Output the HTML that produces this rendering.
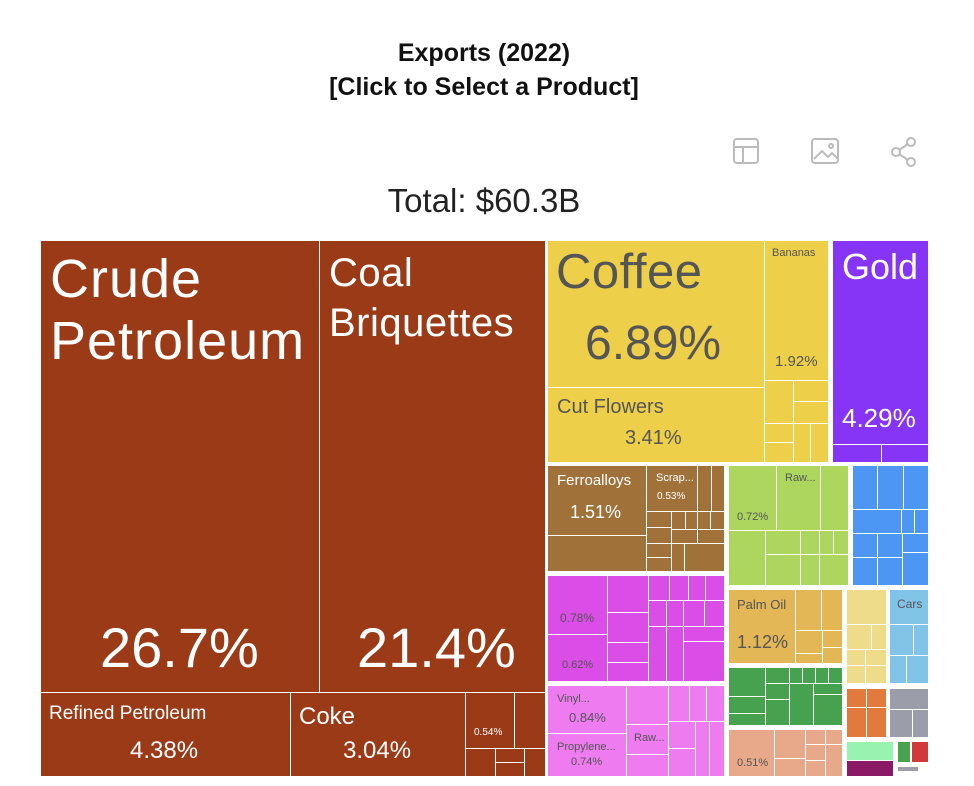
<!DOCTYPE html>
<html><head><meta charset="utf-8"><style>
body{margin:0;background:#fff;width:974px;height:786px;position:relative;overflow:hidden;font-family:"Liberation Sans",sans-serif}
.r{position:absolute;box-sizing:border-box;border:1px solid #fff}
.t{position:absolute;white-space:nowrap}
.w{color:#fff}.d{color:#555}
</style></head><body>
<div class="t" style="left:0;width:968px;top:36px;text-align:center;font-weight:bold;font-size:25px;color:#111;line-height:34px">Exports (2022)<br>[Click to Select a Product]</div>
<svg style="position:absolute;left:732px;top:137px" width="190" height="30" fill="none" stroke="#bbb" stroke-width="2">
<rect x="2" y="2" width="24" height="24" rx="3"/><line x1="2" y1="10" x2="26" y2="10"/><line x1="11" y1="10" x2="11" y2="26"/>
<rect x="80" y="2" width="26" height="24" rx="3"/><polyline points="82,22 90,14 96,20 100,16 106,22"/><circle cx="99" cy="9" r="2"/>
<circle cx="164" cy="15" r="4"/><circle cx="179" cy="5" r="4"/><circle cx="179" cy="25" r="4"/><line x1="167" y1="13" x2="176" y2="7"/><line x1="167" y1="17" x2="176" y2="23"/>
</svg>
<div class="t" style="left:0;width:968px;top:182px;text-align:center;font-size:33px;color:#222">Total: $60.3B</div>

<div class="r" style="left:40px;top:240px;width:280px;height:453px;background:#9a3a17"></div>
<div class="t w" style="left:50px;top:248px;font-size:54px;line-height:62px;letter-spacing:1px">Crude<br>Petroleum</div>
<div class="t w" style="left:100px;top:615px;font-size:56px">26.7%</div>
<div class="r" style="left:319px;top:240px;width:227px;height:453px;background:#9a3a17"></div>
<div class="t w" style="left:329px;top:248px;font-size:40px;line-height:50px;letter-spacing:0.5px">Coal<br>Briquettes</div>
<div class="t w" style="left:357px;top:615px;font-size:56px">21.4%</div>
<div class="r" style="left:40px;top:692px;width:251px;height:85px;background:#9a3a17"></div>
<div class="t w" style="left:49px;top:703px;font-size:19px">Refined Petroleum</div>
<div class="t w" style="left:130px;top:737px;font-size:24px">4.38%</div>
<div class="r" style="left:290px;top:692px;width:176px;height:85px;background:#9a3a17"></div>
<div class="t w" style="left:299px;top:703px;font-size:24px">Coke</div>
<div class="t w" style="left:343px;top:737px;font-size:24px">3.04%</div>
<div class="r" style="left:465px;top:692px;width:50px;height:57px;background:#9a3a17"></div>
<div class="t w" style="left:474px;top:727px;font-size:10px">0.54%</div>
<div class="r" style="left:514px;top:692px;width:32px;height:57px;background:#9a3a17"></div>
<div class="r" style="left:465px;top:748px;width:31px;height:29px;background:#9a3a17"></div>
<div class="r" style="left:495px;top:748px;width:30px;height:15px;background:#9a3a17"></div>
<div class="r" style="left:495px;top:762px;width:30px;height:15px;background:#9a3a17"></div>
<div class="r" style="left:524px;top:748px;width:22px;height:29px;background:#9a3a17"></div>

<div class="r" style="left:547px;top:240px;width:218px;height:148px;background:#edcf4a"></div>
<div class="t d" style="left:556px;top:244px;font-size:49px;letter-spacing:0.5px">Coffee</div>
<div class="t d" style="left:585px;top:316px;font-size:48px">6.89%</div>
<div class="r" style="left:547px;top:387px;width:218px;height:76px;background:#edcf4a"></div>
<div class="t d" style="left:557px;top:396px;font-size:20px">Cut Flowers</div>
<div class="t d" style="left:625px;top:427px;font-size:20px">3.41%</div>
<div class="r" style="left:764px;top:240px;width:65px;height:141px;background:#edcf4a"></div>
<div class="t d" style="left:772px;top:247px;font-size:11px">Bananas</div>
<div class="t d" style="left:775px;top:353px;font-size:15px">1.92%</div>
<div class="r" style="left:764px;top:380px;width:30px;height:44px;background:#edcf4a"></div>
<div class="r" style="left:793px;top:380px;width:36px;height:22px;background:#edcf4a"></div>
<div class="r" style="left:793px;top:401px;width:36px;height:23px;background:#edcf4a"></div>
<div class="r" style="left:764px;top:423px;width:30px;height:20px;background:#edcf4a"></div>
<div class="r" style="left:764px;top:442px;width:30px;height:21px;background:#edcf4a"></div>
<div class="r" style="left:793px;top:423px;width:18px;height:40px;background:#edcf4a"></div>
<div class="r" style="left:810px;top:423px;width:19px;height:40px;background:#edcf4a"></div>
<div class="r" style="left:832px;top:240px;width:97px;height:205px;background:#8634f5"></div>
<div class="t w" style="left:842px;top:246px;font-size:36px">Gold</div>
<div class="t w" style="left:842px;top:403px;font-size:26px">4.29%</div>
<div class="r" style="left:832px;top:444px;width:50px;height:19px;background:#8634f5"></div>
<div class="r" style="left:881px;top:444px;width:48px;height:19px;background:#8634f5"></div>

<div class="r" style="left:547px;top:465px;width:100px;height:71px;background:#a0723a"></div>
<div class="t w" style="left:557px;top:472px;font-size:15px">Ferroalloys</div>
<div class="t w" style="left:570px;top:502px;font-size:18px">1.51%</div>
<div class="r" style="left:547px;top:535px;width:100px;height:37px;background:#a0723a"></div>
<div class="r" style="left:646px;top:465px;width:52px;height:47px;background:#a0723a"></div>
<div class="t w" style="left:656px;top:472px;font-size:11px">Scrap...</div>
<div class="t w" style="left:657px;top:491px;font-size:10px">0.53%</div>
<div class="r" style="left:697px;top:465px;width:15px;height:47px;background:#a0723a"></div>
<div class="r" style="left:711px;top:465px;width:14px;height:47px;background:#a0723a"></div>
<div class="r" style="left:646px;top:511px;width:26px;height:17px;background:#a0723a"></div>
<div class="r" style="left:646px;top:527px;width:26px;height:17px;background:#a0723a"></div>
<div class="r" style="left:646px;top:543px;width:26px;height:15px;background:#a0723a"></div>
<div class="r" style="left:646px;top:557px;width:26px;height:15px;background:#a0723a"></div>
<div class="r" style="left:671px;top:511px;width:15px;height:19px;background:#a0723a"></div>
<div class="r" style="left:685px;top:511px;width:13px;height:19px;background:#a0723a"></div>
<div class="r" style="left:697px;top:511px;width:14px;height:19px;background:#a0723a"></div>
<div class="r" style="left:710px;top:511px;width:15px;height:19px;background:#a0723a"></div>
<div class="r" style="left:671px;top:529px;width:27px;height:15px;background:#a0723a"></div>
<div class="r" style="left:697px;top:529px;width:28px;height:15px;background:#a0723a"></div>
<div class="r" style="left:671px;top:543px;width:14px;height:29px;background:#a0723a"></div>
<div class="r" style="left:684px;top:543px;width:41px;height:29px;background:#a0723a"></div>

<div class="r" style="left:547px;top:575px;width:61px;height:60px;background:#da4de6"></div>
<div class="t d" style="left:560px;top:611px;font-size:12px">0.78%</div>
<div class="r" style="left:547px;top:634px;width:61px;height:48px;background:#da4de6"></div>
<div class="t d" style="left:562px;top:659px;font-size:11px">0.62%</div>
<div class="r" style="left:607px;top:575px;width:42px;height:38px;background:#da4de6"></div>
<div class="r" style="left:607px;top:612px;width:42px;height:31px;background:#da4de6"></div>
<div class="r" style="left:607px;top:642px;width:42px;height:21px;background:#da4de6"></div>
<div class="r" style="left:607px;top:662px;width:42px;height:20px;background:#da4de6"></div>
<div class="r" style="left:648px;top:575px;width:22px;height:26px;background:#da4de6"></div>
<div class="r" style="left:669px;top:575px;width:20px;height:26px;background:#da4de6"></div>
<div class="r" style="left:688px;top:575px;width:18px;height:26px;background:#da4de6"></div>
<div class="r" style="left:705px;top:575px;width:20px;height:26px;background:#da4de6"></div>
<div class="r" style="left:648px;top:600px;width:19px;height:27px;background:#da4de6"></div>
<div class="r" style="left:666px;top:600px;width:18px;height:27px;background:#da4de6"></div>
<div class="r" style="left:683px;top:600px;width:22px;height:27px;background:#da4de6"></div>
<div class="r" style="left:704px;top:600px;width:21px;height:27px;background:#da4de6"></div>
<div class="r" style="left:648px;top:626px;width:19px;height:56px;background:#da4de6"></div>
<div class="r" style="left:666px;top:626px;width:18px;height:56px;background:#da4de6"></div>
<div class="r" style="left:683px;top:626px;width:42px;height:16px;background:#da4de6"></div>
<div class="r" style="left:683px;top:641px;width:42px;height:41px;background:#da4de6"></div>

<div class="r" style="left:547px;top:685px;width:80px;height:49px;background:#ee7bf0"></div>
<div class="t d" style="left:557px;top:693px;font-size:11px">Vinyl...</div>
<div class="t d" style="left:569px;top:710px;font-size:13px">0.84%</div>
<div class="r" style="left:547px;top:733px;width:80px;height:44px;background:#ee7bf0"></div>
<div class="t d" style="left:557px;top:741px;font-size:11px">Propylene...</div>
<div class="t d" style="left:571px;top:756px;font-size:11px">0.74%</div>
<div class="r" style="left:626px;top:685px;width:43px;height:40px;background:#ee7bf0"></div>
<div class="r" style="left:626px;top:724px;width:43px;height:31px;background:#ee7bf0"></div>
<div class="t d" style="left:634px;top:732px;font-size:11px">Raw...</div>
<div class="r" style="left:626px;top:754px;width:43px;height:23px;background:#ee7bf0"></div>
<div class="r" style="left:668px;top:685px;width:22px;height:37px;background:#ee7bf0"></div>
<div class="r" style="left:689px;top:685px;width:18px;height:37px;background:#ee7bf0"></div>
<div class="r" style="left:706px;top:685px;width:19px;height:37px;background:#ee7bf0"></div>
<div class="r" style="left:668px;top:721px;width:28px;height:28px;background:#ee7bf0"></div>
<div class="r" style="left:668px;top:748px;width:28px;height:29px;background:#ee7bf0"></div>
<div class="r" style="left:695px;top:721px;width:15px;height:56px;background:#ee7bf0"></div>
<div class="r" style="left:709px;top:721px;width:16px;height:56px;background:#ee7bf0"></div>

<div class="r" style="left:728px;top:465px;width:49px;height:66px;background:#add65f"></div>
<div class="t d" style="left:737px;top:511px;font-size:11px">0.72%</div>
<div class="r" style="left:776px;top:465px;width:45px;height:66px;background:#add65f"></div>
<div class="t d" style="left:785px;top:472px;font-size:11px">Raw...</div>
<div class="r" style="left:820px;top:465px;width:29px;height:66px;background:#add65f"></div>
<div class="r" style="left:728px;top:530px;width:38px;height:56px;background:#add65f"></div>
<div class="r" style="left:765px;top:530px;width:36px;height:25px;background:#add65f"></div>
<div class="r" style="left:765px;top:554px;width:36px;height:32px;background:#add65f"></div>
<div class="r" style="left:800px;top:530px;width:20px;height:25px;background:#add65f"></div>
<div class="r" style="left:819px;top:530px;width:15px;height:25px;background:#add65f"></div>
<div class="r" style="left:833px;top:530px;width:16px;height:25px;background:#add65f"></div>
<div class="r" style="left:800px;top:554px;width:20px;height:32px;background:#add65f"></div>
<div class="r" style="left:819px;top:554px;width:30px;height:32px;background:#add65f"></div>

<div class="r" style="left:852px;top:465px;width:26px;height:45px;background:#4e96f3"></div>
<div class="r" style="left:877px;top:465px;width:27px;height:45px;background:#4e96f3"></div>
<div class="r" style="left:903px;top:465px;width:26px;height:45px;background:#4e96f3"></div>
<div class="r" style="left:852px;top:509px;width:50px;height:25px;background:#4e96f3"></div>
<div class="r" style="left:901px;top:509px;width:14px;height:25px;background:#4e96f3"></div>
<div class="r" style="left:914px;top:509px;width:15px;height:25px;background:#4e96f3"></div>
<div class="r" style="left:852px;top:533px;width:26px;height:25px;background:#4e96f3"></div>
<div class="r" style="left:877px;top:533px;width:26px;height:25px;background:#4e96f3"></div>
<div class="r" style="left:852px;top:557px;width:26px;height:29px;background:#4e96f3"></div>
<div class="r" style="left:877px;top:557px;width:26px;height:29px;background:#4e96f3"></div>
<div class="r" style="left:902px;top:533px;width:27px;height:20px;background:#4e96f3"></div>
<div class="r" style="left:902px;top:552px;width:27px;height:34px;background:#4e96f3"></div>

<div class="r" style="left:728px;top:589px;width:68px;height:75px;background:#e3b656"></div>
<div class="t d" style="left:737px;top:597px;font-size:13px">Palm Oil</div>
<div class="t d" style="left:737px;top:632px;font-size:18px">1.12%</div>
<div class="r" style="left:795px;top:589px;width:27px;height:42px;background:#e3b656"></div>
<div class="r" style="left:821px;top:589px;width:22px;height:42px;background:#e3b656"></div>
<div class="r" style="left:795px;top:630px;width:28px;height:24px;background:#e3b656"></div>
<div class="r" style="left:822px;top:630px;width:21px;height:18px;background:#e3b656"></div>
<div class="r" style="left:795px;top:653px;width:28px;height:11px;background:#e3b656"></div>
<div class="r" style="left:822px;top:647px;width:21px;height:17px;background:#e3b656"></div>

<div class="r" style="left:728px;top:667px;width:38px;height:30px;background:#47a24f"></div>
<div class="r" style="left:728px;top:696px;width:38px;height:18px;background:#47a24f"></div>
<div class="r" style="left:728px;top:713px;width:38px;height:13px;background:#47a24f"></div>
<div class="r" style="left:765px;top:667px;width:25px;height:17px;background:#47a24f"></div>
<div class="r" style="left:765px;top:683px;width:25px;height:17px;background:#47a24f"></div>
<div class="r" style="left:765px;top:699px;width:25px;height:27px;background:#47a24f"></div>
<div class="r" style="left:789px;top:667px;width:14px;height:17px;background:#47a24f"></div>
<div class="r" style="left:802px;top:667px;width:14px;height:17px;background:#47a24f"></div>
<div class="r" style="left:815px;top:667px;width:14px;height:17px;background:#47a24f"></div>
<div class="r" style="left:828px;top:667px;width:15px;height:17px;background:#47a24f"></div>
<div class="r" style="left:789px;top:683px;width:25px;height:43px;background:#47a24f"></div>
<div class="r" style="left:813px;top:683px;width:30px;height:12px;background:#47a24f"></div>
<div class="r" style="left:813px;top:694px;width:30px;height:32px;background:#47a24f"></div>

<div class="r" style="left:728px;top:729px;width:47px;height:48px;background:#e7a98a"></div>
<div class="t d" style="left:737px;top:757px;font-size:11px">0.51%</div>
<div class="r" style="left:774px;top:729px;width:32px;height:30px;background:#e7a98a"></div>
<div class="r" style="left:774px;top:758px;width:32px;height:19px;background:#e7a98a"></div>
<div class="r" style="left:805px;top:729px;width:21px;height:16px;background:#e7a98a"></div>
<div class="r" style="left:825px;top:729px;width:18px;height:16px;background:#e7a98a"></div>
<div class="r" style="left:805px;top:744px;width:21px;height:17px;background:#e7a98a"></div>
<div class="r" style="left:805px;top:760px;width:21px;height:17px;background:#e7a98a"></div>
<div class="r" style="left:825px;top:744px;width:18px;height:33px;background:#e7a98a"></div>

<div class="r" style="left:846px;top:589px;width:41px;height:36px;background:#efdc8b"></div>
<div class="r" style="left:846px;top:624px;width:26px;height:26px;background:#efdc8b"></div>
<div class="r" style="left:871px;top:624px;width:16px;height:26px;background:#efdc8b"></div>
<div class="r" style="left:846px;top:649px;width:20px;height:17px;background:#efdc8b"></div>
<div class="r" style="left:865px;top:649px;width:22px;height:17px;background:#efdc8b"></div>
<div class="r" style="left:846px;top:665px;width:20px;height:19px;background:#efdc8b"></div>
<div class="r" style="left:865px;top:665px;width:22px;height:19px;background:#efdc8b"></div>
<div class="r" style="left:889px;top:589px;width:40px;height:36px;background:#82c3e8"></div>
<div class="t d" style="left:897px;top:597px;font-size:12px">Cars</div>
<div class="r" style="left:889px;top:624px;width:25px;height:32px;background:#82c3e8"></div>
<div class="r" style="left:913px;top:624px;width:16px;height:32px;background:#82c3e8"></div>
<div class="r" style="left:889px;top:655px;width:18px;height:29px;background:#82c3e8"></div>
<div class="r" style="left:906px;top:655px;width:23px;height:29px;background:#82c3e8"></div>

<div class="r" style="left:846px;top:688px;width:21px;height:20px;background:#e17a3c"></div>
<div class="r" style="left:866px;top:688px;width:21px;height:20px;background:#e17a3c"></div>
<div class="r" style="left:846px;top:707px;width:21px;height:31px;background:#e17a3c"></div>
<div class="r" style="left:866px;top:707px;width:21px;height:31px;background:#e17a3c"></div>
<div class="r" style="left:889px;top:688px;width:40px;height:22px;background:#9b9ea8"></div>
<div class="r" style="left:889px;top:709px;width:24px;height:29px;background:#9b9ea8"></div>
<div class="r" style="left:912px;top:709px;width:17px;height:29px;background:#9b9ea8"></div>

<div class="r" style="left:846px;top:741px;width:48px;height:20px;background:#98f3b0"></div>
<div class="r" style="left:846px;top:760px;width:48px;height:17px;background:#8a1a66"></div>
<div class="r" style="left:897px;top:741px;width:14px;height:22px;background:#47a24f"></div>
<div class="r" style="left:911px;top:741px;width:18px;height:22px;background:#d13a3a"></div>
<div class="r" style="left:897px;top:762px;width:32px;height:15px;background:#fff"></div>
<div class="r" style="left:897px;top:766px;width:22px;height:6px;background:#9b9ea8"></div>
</body></html>
